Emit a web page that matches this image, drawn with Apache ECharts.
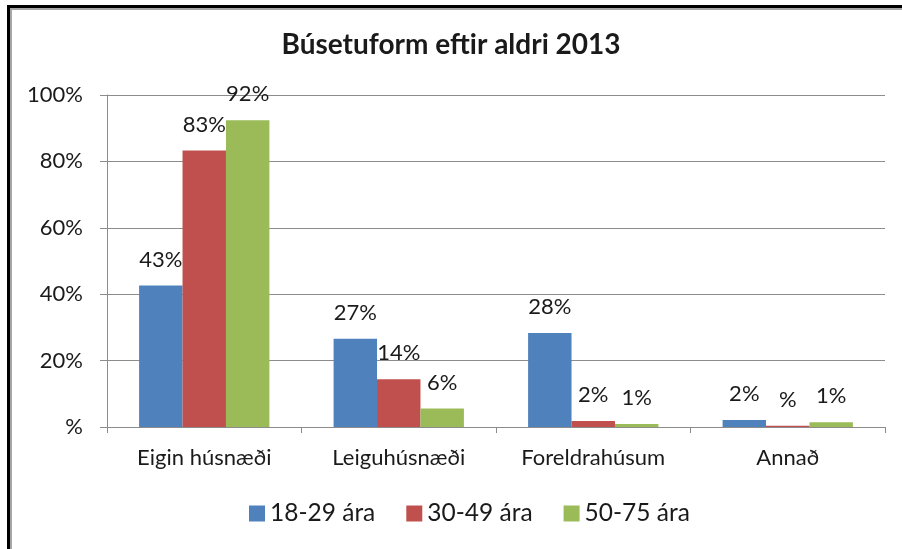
<!DOCTYPE html>
<html>
<head>
<meta charset="utf-8">
<script src="https://cdn.jsdelivr.net/npm/echarts@6/dist/echarts.min.js"></script>
<style>
  html, body { margin: 0; padding: 0; background: #fff; }
  #chart { width: 902px; height: 549px; }
</style>
</head>
<body>
<div id="chart"></div>
<script>
  // flokkar og gildi (%), lesin af myndinni
  const categories = ['Eigin húsnæði', 'Leiguhúsnæði', 'Foreldrahúsum', 'Annað']
  const seriesNames = ['18-29 ára', '30-49 ára', '50-75 ára']
  const age18to29 = [42.6, 26.6, 28.3, 2.1]
  const age30to49 = [83.3, 14.4, 1.8, 0.4]
  const age50to75 = [92.4, 5.6, 0.9, 1.4]
  const yTicks = [0, 20, 40, 60, 80, 100]

  const colors = ['#4F81BD', '#C0504D', '#9BBB59']
  const font = 'Lato, "Noto Sans", sans-serif'
  const textColor = '#1a1a1a'
  const lineColor = '#8c8c8c'

  // 0% birtist sem "%" eins og í Excel sniðinu
  const pct = (v) => {
    let r = Math.round(v)
    return r === 0 ? '%' : r + '%'
  }

  let chart = echarts.init(document.getElementById('chart'), null, { renderer: 'canvas' })

  let seriesData = [age18to29, age30to49, age50to75]

  chart.setOption({
    animation: false,
    color: colors,
    textStyle: { fontFamily: font, color: textColor },
    title: {
      text: 'Búsetuform eftir aldri 2013',
      left: 'center',
      top: 26,
      textStyle: { fontFamily: font, fontSize: 28, fontWeight: 'bold', color: textColor },
    },
    legend: {
      data: seriesNames,
      bottom: 18,
      left: 244,
      icon: 'rect',
      itemWidth: 16,
      itemHeight: 16,
      itemGap: 31,
      textStyle: { fontFamily: font, fontSize: 24.5, color: textColor },
    },
    grid: { left: 107, right: 17, top: 95, bottom: 122, containLabel: false },
    xAxis: {
      type: 'category',
      data: categories,
      axisLine: { lineStyle: { color: lineColor, width: 1 } },
      axisTick: { show: true, length: 6, lineStyle: { color: lineColor } },
      axisLabel: { fontFamily: font, fontSize: 22, color: textColor, margin: 20 },
    },
    yAxis: {
      type: 'value',
      min: 0,
      max: 100,
      interval: 20,
      axisLine: { show: true, lineStyle: { color: lineColor } },
      axisTick: { show: true, length: 7, lineStyle: { color: lineColor } },
      axisLabel: {
        fontFamily: font,
        fontSize: 22,
        color: textColor,
        margin: 24,
        formatter: (v) => (yTicks.includes(v) ? pct(v) : ''),
      },
      splitLine: { lineStyle: { color: lineColor, width: 1 } },
    },
    series: seriesNames.map((name, i) => ({
      name: name,
      type: 'bar',
      data: seriesData[i],
      barGap: '0%',
      barCategoryGap: '33%',
      label: {
        show: true,
        position: 'top',
        distance: 15,
        fontFamily: font,
        fontSize: 22,
        color: textColor,
        formatter: (p) => pct(p.value),
      },
    })),
    graphic: [
      {
        type: 'rect',
        shape: { x: 8.5, y: 6.5, width: 1000, height: 1000 },
        style: { fill: null, stroke: '#000', lineWidth: 3 },
        silent: true,
      },
      {
        type: 'rect',
        shape: { x: 11, y: 9, width: 1000, height: 1000 },
        style: { fill: null, stroke: '#a6a6a6', lineWidth: 2 },
        silent: true,
      },
    ],
  })
</script>
</body>
</html>
